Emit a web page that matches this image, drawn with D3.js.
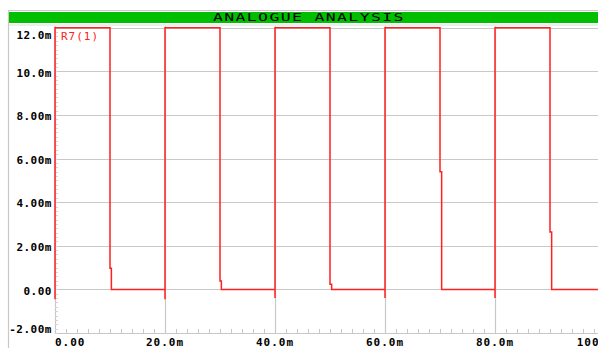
<!DOCTYPE html>
<html>
<head>
<meta charset="utf-8">
<script src="https://cdn.jsdelivr.net/npm/d3@7/dist/d3.min.js"></script>
<style>
  html, body { margin: 0; padding: 0; background: #ffffff; }
  svg { display: block; }
  text { font-family: "DejaVu Sans Mono", monospace; font-weight: bold; }
</style>
</head>
<body>
<svg id="chart" width="598" height="348"></svg>
<script>
// ---- data ----
const chartTitle = "ANALOGUE ANALYSIS";
const traceName = "R7(1)";
const xTicks = [0, 20, 40, 60, 80, 100];
const xTickLabels = ["0.00", "20.0m", "40.0m", "60.0m", "80.0m", "100m"];
const yTicks = [-2, 0, 2, 4, 6, 8, 10, 12];
const yTickLabels = ["-2.00m", "0.00", "2.00m", "4.00m", "6.00m", "8.00m", "10.0m", "12.0m"];
// time in ms, value in mA (m units)
const traceTime  = [0, 0, 10, 10, 10.25, 10.25, 20, 20, 20, 30, 30, 30.25, 30.25, 40, 40, 40, 50, 50, 50.3, 50.3, 60, 60, 60, 70, 70, 70.3, 70.3, 80, 80, 80, 90, 90, 90.3, 90.3, 101];
const traceValue = [-0.45, 12, 12, 0.97, 0.97, 0, 0, -0.45, 12, 12, 0.38, 0.38, 0, 0, -0.4, 12, 12, 0.23, 0.23, 0, 0, -0.4, 12, 12, 5.4, 5.4, 0, 0, -0.4, 12, 12, 2.63, 2.63, 0, 0];

// ---- layout ----
const svg = d3.select("#chart");
const W = 598, H = 348;
const frameL = 9, frameT = 10;
const plotL = 55, plotR = 605, plotT = 27.7, plotB = 333;

const x = d3.scaleLinear().domain([0, 100]).range([plotL, plotR]);
const y = d3.scaleLinear().domain([-2, 12]).range([plotB, plotT]);

const grid = "#c8c8c8";

// frame lines
svg.append("line").attr("x1", frameL).attr("x2", W).attr("y1", frameT + 0.5).attr("y2", frameT + 0.5)
  .attr("stroke", "#c8c8c8").attr("stroke-width", 1);
svg.append("line").attr("x1", frameL - 0.5).attr("x2", frameL - 0.5).attr("y1", frameT).attr("y2", H)
  .attr("stroke", "#c8c8c8").attr("stroke-width", 1.2);

// title bar
svg.append("rect").attr("x", frameL).attr("y", 12).attr("width", W - frameL).attr("height", 11)
  .attr("fill", "#00bf00");
svg.append("line").attr("x1", frameL).attr("x2", W).attr("y1", 25).attr("y2", 25)
  .attr("stroke", "#dcdcdc").attr("stroke-width", 1);
svg.append("text")
  .attr("transform", "translate(213,21.3) scale(1.5,1)")
  .attr("font-size", 11).attr("letter-spacing", 0.9).attr("fill", "#000")
  .style("font-weight", "normal")
  .text(chartTitle);

// horizontal gridlines
svg.append("g").selectAll("line").data(yTicks).join("line")
  .attr("x1", plotL).attr("x2", W)
  .attr("y1", d => Math.round(y(d)) + 0.5).attr("y2", d => Math.round(y(d)) + 0.5)
  .attr("stroke", grid).attr("stroke-width", 1.2);

// vertical gridlines (incl. y axis)
svg.append("g").selectAll("line").data(xTicks.filter(d => x(d) < W)).join("line")
  .attr("x1", d => Math.round(x(d)) + 0.5).attr("x2", d => Math.round(x(d)) + 0.5)
  .attr("y1", 26).attr("y2", plotB)
  .attr("stroke", grid).attr("stroke-width", 1.2);

// x minor ticks
const xMinor = d3.range(0, 101, 2).filter(d => d % 20 !== 0);
svg.append("g").selectAll("line").data(xMinor).join("line")
  .attr("x1", d => Math.round(x(d)) + 0.5).attr("x2", d => Math.round(x(d)) + 0.5)
  .attr("y1", plotB - 4).attr("y2", plotB)
  .attr("stroke", grid).attr("stroke-width", 1);

// y minor ticks
const yMinor = d3.range(-2, 12.001, 0.2);
svg.append("g").selectAll("line").data(yMinor).join("line")
  .attr("x1", plotL).attr("x2", plotL + 3)
  .attr("y1", d => Math.round(y(d)) + 0.5).attr("y2", d => Math.round(y(d)) + 0.5)
  .attr("stroke", "#d4d4d4").attr("stroke-width", 1);

// y labels
svg.append("g").selectAll("text").data(yTicks).join("text")
  .attr("x", plotL - 3)
  .attr("y", d => y(d))
  .attr("dy", (d, i) => i === yTicks.length - 1 ? "1.05em" : (i === 0 ? "0em" : "0.48em"))
  .attr("text-anchor", "end")
  .attr("font-size", 11).attr("letter-spacing", 0.5).attr("fill", "#000")
  .text((d, i) => yTickLabels[i]);

// x labels
svg.append("g").selectAll("text").data(xTicks).join("text")
  .attr("x", d => x(d))
  .attr("dx", (d, i) => i === xTicks.length - 1 ? -13 : 0)
  .attr("y", 346)
  .attr("text-anchor", (d, i) => i === 0 ? "start" : "middle")
  .attr("font-size", 11).attr("letter-spacing", 1).attr("fill", "#000")
  .text((d, i) => xTickLabels[i]);

// trace
const pts = traceTime.map((t, i) => [t, traceValue[i]]);
const line = d3.line().x(d => x(d[0])).y(d => y(d[1]));
svg.append("path").datum(pts)
  .attr("d", line)
  .attr("fill", "none").attr("stroke", "#ff2020").attr("stroke-width", 1.5)
  .attr("stroke-linejoin", "miter");

// trace name
svg.append("text").attr("x", 61).attr("y", 39.5)
  .attr("font-size", 11).attr("letter-spacing", 1).attr("fill", "#ff2020")
  .style("font-weight", "normal")
  .text(traceName);
</script>
</body>
</html>
